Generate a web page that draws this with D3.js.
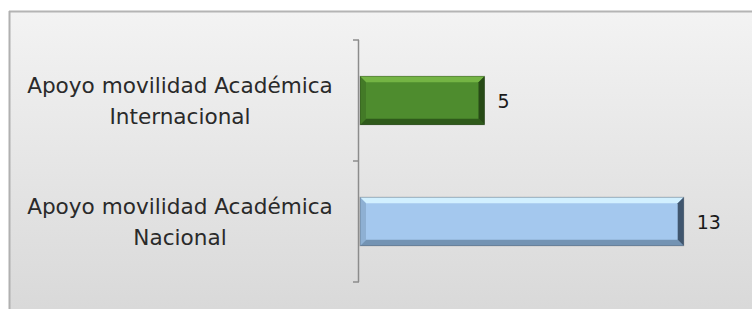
<!DOCTYPE html>
<html><head><meta charset="utf-8">
<script src="https://cdn.jsdelivr.net/npm/d3@7"></script>
<style>html,body{margin:0;padding:0;background:#fff;}svg{display:block;}</style>
</head><body>
<script>
const categories = ["Apoyo movilidad Académica Internacional", "Apoyo movilidad Académica Nacional"];
const values = [5, 13];
const palettes = [
  {main:"#4e8c2e", top:"#74b444", bottom:"#2f5a1b", left:"#437a27", right:"#274a16"},
  {main:"#a4c8ee", top:"#d2f0ff", bottom:"#7393b3", left:"#8eb0d3", right:"#40566e"}
];

const W = 752, H = 309;
const svg = d3.select("body").append("svg").attr("width", W).attr("height", H);
const defs = svg.append("defs");
const bg = defs.append("linearGradient").attr("id","bg").attr("x1",0).attr("y1",0).attr("x2",0).attr("y2",1);
bg.append("stop").attr("offset","0%").attr("stop-color","#f3f3f3");
bg.append("stop").attr("offset","100%").attr("stop-color","#d9d9d9");

svg.append("rect").attr("x",9).attr("y",11).attr("width",W-9).attr("height",H-11).attr("fill","url(#bg)");
svg.append("line").attr("x1",9).attr("x2",W).attr("y1",11.5).attr("y2",11.5).attr("stroke","#b4b4b4").attr("stroke-width",2);
svg.append("line").attr("x1",9.5).attr("x2",9.5).attr("y1",11).attr("y2",H).attr("stroke","#b0b0b0").attr("stroke-width",2);

const x0 = 359, xMax = 14;
const x = d3.scaleLinear().domain([0, xMax]).range([x0, x0 + 24.9 * xMax]);
const y = d3.scaleBand().domain(categories).range([40, 282]).paddingInner(0.6).paddingOuter(0.3);

const axisG = svg.append("g");
axisG.append("line").attr("x1",x0-0.5).attr("x2",x0-0.5).attr("y1",40).attr("y2",282).attr("stroke","#8c8c8c").attr("stroke-width",1.5);
const tickYs = [40, (y(categories[0]) + y.bandwidth()/2 + y(categories[1]) + y.bandwidth()/2)/2, 282];
axisG.selectAll("line.t").data(tickYs).join("line").attr("class","t")
  .attr("x1",x0-6).attr("x2",x0).attr("y1",d=>d).attr("y2",d=>d).attr("stroke","#8c8c8c").attr("stroke-width",1.5);

const bev = 6;
categories.forEach((c, i) => {
  const p = palettes[i];
  const bx = x(0) + 1, by = y(c), bw = x(values[i]) - x(0), bh = y.bandwidth();
  const g = svg.append("g");
  g.append("rect").attr("x",bx).attr("y",by).attr("width",bw).attr("height",bh).attr("fill",p.main);
  const pts = {
    top: [[bx,by],[bx+bw,by],[bx+bw-bev,by+bev],[bx+bev,by+bev]],
    bottom: [[bx,by+bh],[bx+bw,by+bh],[bx+bw-bev,by+bh-bev],[bx+bev,by+bh-bev]],
    left: [[bx,by],[bx+bev,by+bev],[bx+bev,by+bh-bev],[bx,by+bh]],
    right: [[bx+bw,by],[bx+bw-bev,by+bev],[bx+bw-bev,by+bh-bev],[bx+bw,by+bh]]
  };
  Object.keys(pts).forEach(k => {
    g.append("polygon").attr("points", pts[k].map(q=>q.join(",")).join(" ")).attr("fill", p[k]);
  });
  g.append("rect").attr("x",bx).attr("y",by).attr("width",bw).attr("height",bh).attr("fill","none").attr("stroke","rgba(0,0,0,0.25)").attr("stroke-width",1);
  svg.append("text").attr("x", x(values[i]) + 14).attr("y", by + bh/2 + 2)
    .attr("dominant-baseline","middle").attr("font-family","DejaVu Sans").attr("font-size",19).attr("fill","#1a1a1a")
    .text(values[i]);
  const words = c.split(" ");
  const lines = [words.slice(0, 3).join(" "), words.slice(3).join(" ")];
  const cy = by + bh/2;
  lines.forEach((ln, j) => {
    svg.append("text").attr("x",180).attr("y", cy - 14 + j*31).attr("text-anchor","middle")
      .attr("dominant-baseline","middle").attr("font-family","DejaVu Sans").attr("font-size",21.6).attr("fill","#2a2a2a")
      .text(ln);
  });
});
</script>
</body></html>
